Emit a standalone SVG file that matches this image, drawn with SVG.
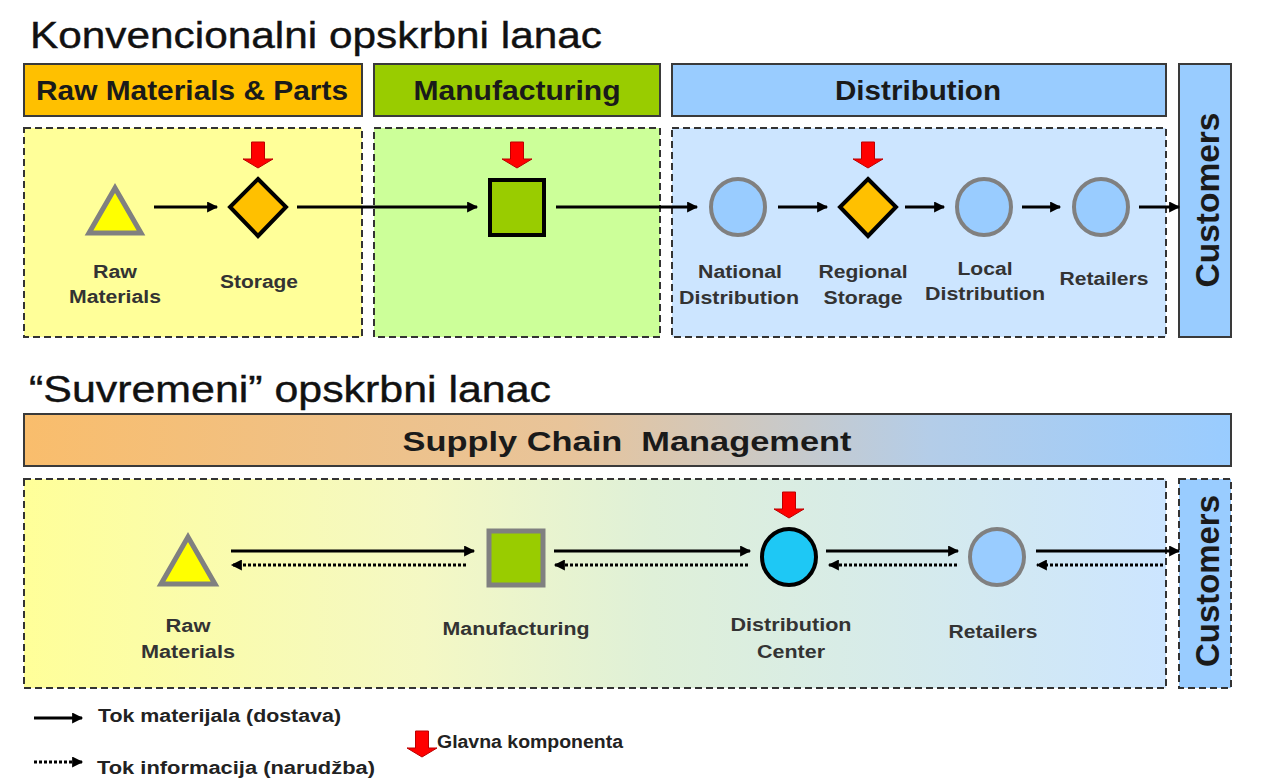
<svg xmlns="http://www.w3.org/2000/svg" width="1266" height="784" viewBox="0 0 1266 784">
<defs>
<style>
.title{font-family:"Liberation Sans",Arial,sans-serif;font-size:37px;fill:#111;stroke:#111;stroke-width:0.4}
.hdr{font-family:"Liberation Sans",Arial,sans-serif;font-size:28px;font-weight:bold;fill:#1a1a1a;text-anchor:middle}
.lbl{font-family:"Liberation Sans",Arial,sans-serif;font-size:18px;font-weight:bold;fill:#333;text-anchor:middle}
.leg{font-family:"Liberation Sans",Arial,sans-serif;font-size:18px;font-weight:bold;fill:#222}
.cust{font-family:"Liberation Sans",Arial,sans-serif;font-size:34px;font-weight:bold;fill:#1a1a1a;text-anchor:middle}
.hbox{stroke:#3a3a3a;stroke-width:2}
.dash{stroke:#333;stroke-width:2;stroke-dasharray:7 4}
.solid{stroke:#000;stroke-width:3;fill:none;marker-end:url(#ah)}
.dot{stroke:#000;stroke-width:3;fill:none;stroke-dasharray:3 2;marker-end:url(#ah)}
.red{fill:#f00;stroke:#b00;stroke-width:1}
</style>
<marker id="ah" viewBox="0 0 10 10" refX="9" refY="5" markerWidth="12" markerHeight="11" markerUnits="userSpaceOnUse" orient="auto"><path d="M0,0 L10,5 L0,10 Z" fill="#000"/></marker>
<linearGradient id="scm" x1="0" y1="0" x2="1" y2="0"><stop offset="0" stop-color="#f9bd6c"/><stop offset="0.45" stop-color="#e8c49a"/><stop offset="0.75" stop-color="#b4cde8"/><stop offset="1" stop-color="#99ccff"/></linearGradient>
<linearGradient id="pan" x1="0" y1="0" x2="1" y2="0"><stop offset="0" stop-color="#ffff99"/><stop offset="0.35" stop-color="#f4f8c4"/><stop offset="0.55" stop-color="#dff0d8"/><stop offset="1" stop-color="#cce5ff"/></linearGradient>
<path id="redarrow" d="M-6.5,0 L6.5,0 L6.5,17 L15,17 L0,26 L-15,17 L-6.5,17 Z"/>
</defs>
<rect width="1266" height="784" fill="#fff"/>

<text class="title" x="30" y="48" textLength="572" lengthAdjust="spacingAndGlyphs">Konvencionalni opskrbni lanac</text>

<g id="hdr-raw"><rect class="hbox" x="24" y="64" width="338" height="52" fill="#ffc000"/><text class="hdr" x="192" y="100" textLength="312" lengthAdjust="spacingAndGlyphs">Raw Materials &amp; Parts</text></g>
<g id="hdr-mfg"><rect class="hbox" x="374" y="64" width="286" height="52" fill="#99cc00"/><text class="hdr" x="517" y="100" textLength="207" lengthAdjust="spacingAndGlyphs">Manufacturing</text></g>
<g id="hdr-dist"><rect class="hbox" x="672" y="64" width="494" height="52" fill="#99ccff"/><text class="hdr" x="918" y="100" textLength="166" lengthAdjust="spacingAndGlyphs">Distribution</text></g>
<g id="customers1"><rect class="hbox" x="1179" y="64" width="52" height="273" fill="#99ccff"/><text class="cust" transform="translate(1219,200) rotate(-90)" textLength="175" lengthAdjust="spacingAndGlyphs">Customers</text></g>

<g id="panel-raw"><rect class="dash" x="24" y="128" width="338" height="209" fill="#ffff99"/></g>
<g id="panel-mfg"><rect class="dash" x="374" y="128" width="286" height="209" fill="#ccff99"/></g>
<g id="panel-dist"><rect class="dash" x="672" y="128" width="494" height="209" fill="#cce5ff"/></g>

<g id="connectors1">
<line class="solid" x1="154" y1="207" x2="217" y2="207"/>
<line class="solid" x1="297" y1="207" x2="477" y2="207"/>
<line class="solid" x1="556" y1="207" x2="697" y2="207"/>
<line class="solid" x1="778" y1="207" x2="827" y2="207"/>
<line class="solid" x1="905" y1="207" x2="944" y2="207"/>
<line class="solid" x1="1022" y1="207" x2="1060" y2="207"/>
<line class="solid" x1="1139" y1="207" x2="1179" y2="207"/>
</g>

<g id="n-raw1"><polygon points="115,188 89,233 141,233" fill="#ffff00" stroke="#808080" stroke-width="5"/><text class="lbl" x="115" y="278" textLength="44" lengthAdjust="spacingAndGlyphs">Raw</text><text class="lbl" x="115" y="303" textLength="92" lengthAdjust="spacingAndGlyphs">Materials</text></g>
<g id="n-storage"><use href="#redarrow" x="258" y="142" class="red"/><polygon points="258,179 286,207 258,236 230,207" fill="#ffc000" stroke="#000" stroke-width="4"/><text class="lbl" x="259" y="288" textLength="78" lengthAdjust="spacingAndGlyphs">Storage</text></g>
<g id="n-mfg1"><use href="#redarrow" x="517" y="142" class="red"/><rect x="490" y="180" width="54" height="55" fill="#99cc00" stroke="#000" stroke-width="4"/></g>
<g id="n-natdist"><ellipse cx="738" cy="207" rx="27" ry="28" fill="#99ccff" stroke="#808080" stroke-width="4"/><text class="lbl" x="740" y="278" textLength="84" lengthAdjust="spacingAndGlyphs">National</text><text class="lbl" x="739" y="304" textLength="120" lengthAdjust="spacingAndGlyphs">Distribution</text></g>
<g id="n-regstor"><use href="#redarrow" x="868" y="142" class="red"/><polygon points="868,179 896,207 868,236 840,207" fill="#ffc000" stroke="#000" stroke-width="4"/><text class="lbl" x="863" y="278" textLength="89" lengthAdjust="spacingAndGlyphs">Regional</text><text class="lbl" x="863" y="304" textLength="79" lengthAdjust="spacingAndGlyphs">Storage</text></g>
<g id="n-locdist"><ellipse cx="984" cy="207" rx="27" ry="28" fill="#99ccff" stroke="#808080" stroke-width="4"/><text class="lbl" x="985" y="275" textLength="55" lengthAdjust="spacingAndGlyphs">Local</text><text class="lbl" x="985" y="300" textLength="120" lengthAdjust="spacingAndGlyphs">Distribution</text></g>
<g id="n-ret1"><ellipse cx="1101" cy="207" rx="27" ry="28" fill="#99ccff" stroke="#808080" stroke-width="4"/><text class="lbl" x="1104" y="285" textLength="89" lengthAdjust="spacingAndGlyphs">Retailers</text></g>

<text class="title" x="29" y="402" textLength="522" lengthAdjust="spacingAndGlyphs">“Suvremeni” opskrbni lanac</text>

<g id="scm-bar"><rect class="hbox" x="24" y="414" width="1207" height="52" fill="url(#scm)"/><text class="hdr" x="627" y="451" textLength="449" lengthAdjust="spacingAndGlyphs" xml:space="preserve">Supply Chain  Management</text></g>
<g id="panel-modern"><rect class="dash" x="24" y="479" width="1142" height="209" fill="url(#pan)"/></g>
<g id="customers2"><rect class="dash" x="1179" y="479" width="52" height="209" fill="#99ccff"/><text class="cust" transform="translate(1219,581) rotate(-90)" textLength="172" lengthAdjust="spacingAndGlyphs">Customers</text></g>

<g id="connectors2">
<line class="solid" x1="231" y1="551" x2="474" y2="551"/>
<line class="dot" x1="466" y1="565" x2="232" y2="565"/>
<line class="solid" x1="554" y1="551" x2="750" y2="551"/>
<line class="dot" x1="748" y1="565" x2="555" y2="565"/>
<line class="solid" x1="826" y1="551" x2="958" y2="551"/>
<line class="dot" x1="957" y1="565" x2="829" y2="565"/>
<line class="solid" x1="1036" y1="551" x2="1179" y2="551"/>
<line class="dot" x1="1163" y1="565" x2="1037" y2="565"/>
</g>

<g id="n-raw2"><polygon points="188,537 161,584 215,584" fill="#ffff00" stroke="#808080" stroke-width="5"/><text class="lbl" x="188" y="632" textLength="45" lengthAdjust="spacingAndGlyphs">Raw</text><text class="lbl" x="188" y="658" textLength="94" lengthAdjust="spacingAndGlyphs">Materials</text></g>
<g id="n-mfg2"><rect x="489" y="531" width="54" height="54" fill="#99cc00" stroke="#808080" stroke-width="5"/><text class="lbl" x="516" y="635" textLength="147" lengthAdjust="spacingAndGlyphs">Manufacturing</text></g>
<g id="n-dc"><use href="#redarrow" x="789" y="492" class="red"/><ellipse cx="789" cy="557" rx="27" ry="28" fill="#1ec8f5" stroke="#000" stroke-width="4"/><text class="lbl" x="791" y="631" textLength="121" lengthAdjust="spacingAndGlyphs">Distribution</text><text class="lbl" x="791" y="658" textLength="68" lengthAdjust="spacingAndGlyphs">Center</text></g>
<g id="n-ret2"><ellipse cx="997" cy="557" rx="27" ry="28" fill="#99ccff" stroke="#808080" stroke-width="4"/><text class="lbl" x="993" y="638" textLength="89" lengthAdjust="spacingAndGlyphs">Retailers</text></g>

<g id="legend">
<line class="solid" x1="34" y1="718" x2="82" y2="718"/>
<text class="leg" x="98" y="722" textLength="243" lengthAdjust="spacingAndGlyphs">Tok materijala (dostava)</text>
<line class="dot" x1="34" y1="762" x2="82" y2="762"/>
<text class="leg" x="97" y="774" textLength="278" lengthAdjust="spacingAndGlyphs">Tok informacija (narudžba)</text>
<use href="#redarrow" x="422" y="731" class="red"/>
<text class="leg" x="437" y="748" textLength="186" lengthAdjust="spacingAndGlyphs">Glavna komponenta</text>
</g>
</svg>
